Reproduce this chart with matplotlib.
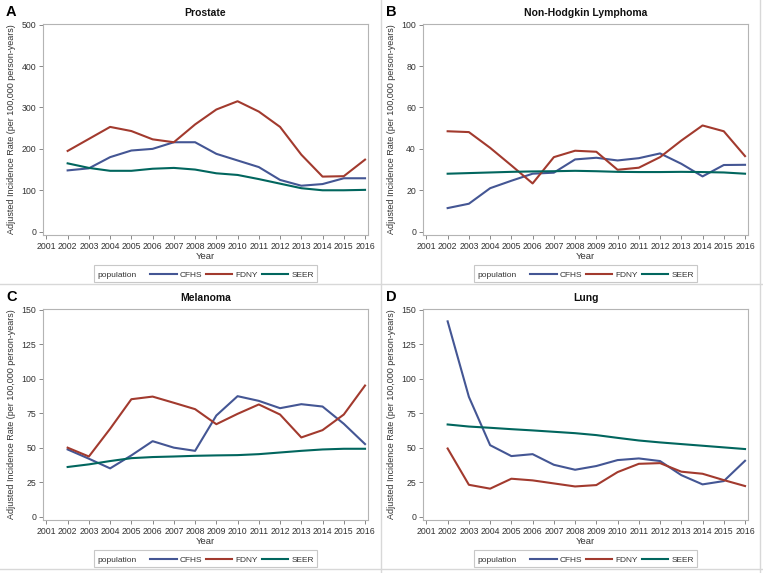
import numpy as np
import matplotlib.pyplot as plt
from matplotlib.lines import Line2D
from matplotlib.offsetbox import HPacker, TextArea, DrawingArea, AnchoredOffsetbox

plt.rcParams['font.family'] = ['Liberation Sans', 'DejaVu Sans']

# years on the x axis
years = list(range(2002, 2017))
xticks = list(range(2001, 2017))
populations = ['CFHS', 'FDNY', 'SEER']
colors = ['#445694', '#A23A2E', '#01665E']

# A - Prostate
prostate_cfhs = [148, 153, 180, 196, 200, 216, 216, 188, 172, 156, 125, 111, 115, 129, 129]
prostate_fdny = [195, 224, 253, 243, 223, 216, 259, 295, 315, 290, 253, 186, 133, 134, 174]
prostate_seer = [165, 154, 147, 147, 152, 154, 150, 141, 137, 127, 116, 105, 100, 100, 101]

# B - Non-Hodgkin Lymphoma
nhl_cfhs = [11.4, 13.5, 21.0, 24.6, 28.0, 28.5, 34.9, 35.7, 34.4, 35.5, 37.8, 32.8, 26.7, 32.2, 32.3]
nhl_fdny = [48.5, 48.1, 40.5, 32.0, 23.3, 36.0, 39.1, 38.6, 29.9, 30.9, 36.0, 44.0, 51.3, 48.5, 36.5]
nhl_seer = [28.0, 28.3, 28.6, 28.9, 29.1, 29.2, 29.4, 29.2, 28.9, 28.8, 28.8, 28.9, 28.8, 28.6, 28.0]

# C - Melanoma
mel_cfhs = [48.7, 42.0, 35.0, 44.4, 54.7, 50.0, 47.7, 73.3, 87.3, 83.9, 78.6, 81.5, 79.8, 67.3, 52.6]
mel_fdny = [50.0, 43.6, 63.7, 85.1, 87.0, 82.5, 77.9, 67.0, 74.5, 81.3, 74.0, 57.4, 62.7, 74.0, 95.0]
mel_seer = [36.0, 37.9, 40.3, 42.4, 43.2, 43.6, 44.1, 44.4, 44.6, 45.3, 46.5, 47.7, 48.7, 49.2, 49.2]

# D - Lung
lung_cfhs = [141.5, 86.8, 51.8, 43.9, 45.3, 37.6, 34.0, 36.7, 41.0, 42.2, 40.3, 30.1, 23.4, 25.8, 40.5]
lung_fdny = [49.4, 23.1, 20.3, 27.5, 26.3, 24.1, 21.9, 22.9, 32.3, 38.3, 38.8, 32.6, 31.1, 26.5, 22.2]
lung_seer = [66.8, 65.3, 64.4, 63.4, 62.5, 61.5, 60.5, 59.1, 57.1, 55.2, 53.8, 52.6, 51.4, 50.2, 49.0]

panels = [
    ('A', 'Prostate', [prostate_cfhs, prostate_fdny, prostate_seer], 500, 100),
    ('B', 'Non-Hodgkin Lymphoma', [nhl_cfhs, nhl_fdny, nhl_seer], 100, 20),
    ('C', 'Melanoma', [mel_cfhs, mel_fdny, mel_seer], 150, 25),
    ('D', 'Lung', [lung_cfhs, lung_fdny, lung_seer], 150, 25),
]

W, H = 763, 573
fig = plt.figure(figsize=(W / 100, H / 100), dpi=100)

# axes boxes in pixels: left, top, width, height
origins = [(0, 0), (380, 0), (0, 285), (380, 285)]
ax_l, ax_t, ax_w, ax_h = 43, 24, 325, 211

grid_col = '#b4b4b4'
txt_col = '#333333'

for (letter, title, series, ymax, ystep), (ox, oy) in zip(panels, origins):
    left = (ox + ax_l) / W
    bottom = 1 - (oy + ax_t + ax_h) / H
    ax = fig.add_axes([left, bottom, ax_w / W, ax_h / H])
    for vals, col in zip(series, colors):
        ax.plot(years, vals, color=col, lw=1.5)
    ax.set_xlim(2000.84, 2016.14)
    ax.set_ylim(-0.016 * ymax, ymax * 1.003)
    ax.set_xticks(xticks)
    ax.set_yticks(np.arange(0, ymax + 1, ystep))
    ax.tick_params(labelsize=6.3, colors=txt_col, length=3, width=0.7,
                   color='#888888', pad=2)
    for sp in ax.spines.values():
        sp.set_color(grid_col)
        sp.set_linewidth(0.8)
    ax.set_xlabel('Year', fontsize=6.8, color=txt_col, labelpad=1)
    ax.set_ylabel('Adjusted Incidence Rate (per 100,000 person-years)',
                  fontsize=6.5, color=txt_col, labelpad=4)
    ax.set_title(title, fontsize=7.5, fontweight='bold', color='#111111', pad=6)
    fig.text((ox + 6) / W, 1 - (oy + 12) / H, letter, fontsize=10.5,
             fontweight='bold', va='center', ha='left')

    # legend: "population" followed by the three lines
    tp = dict(size=6, color=txt_col)
    items = [TextArea('population', textprops=tp), DrawingArea(5, 1, 0, 0)]
    for name, col in zip(populations, colors):
        da = DrawingArea(19, 6, 0, 0)
        da.add_artist(Line2D([0, 19], [1.8, 1.8], color=col, lw=1.5))
        items.append(da)
        items.append(TextArea(name, textprops=tp))
    box = HPacker(children=items, align='baseline', pad=0, sep=2.5)
    anch = AnchoredOffsetbox(loc='center', child=box, pad=0.25, borderpad=0,
                             frameon=True, bbox_to_anchor=(0.5, -0.182),
                             bbox_transform=ax.transAxes)
    anch.patch.set_edgecolor('#c8c8c8')
    anch.patch.set_linewidth(0.8)
    ax.add_artist(anch)

# panel separators
sep_col = '#d8d8d8'
fig.add_artist(Line2D([381 / W, 381 / W], [0, 1], color=sep_col, lw=1))
fig.add_artist(Line2D([0, 1], [1 - 284 / H, 1 - 284 / H], color=sep_col, lw=1))
fig.add_artist(Line2D([760 / W, 760 / W], [0, 1], color=sep_col, lw=1))
fig.add_artist(Line2D([0, 1], [1 - 569 / H, 1 - 569 / H], color=sep_col, lw=1))

fig.savefig('out.png', dpi=100)
